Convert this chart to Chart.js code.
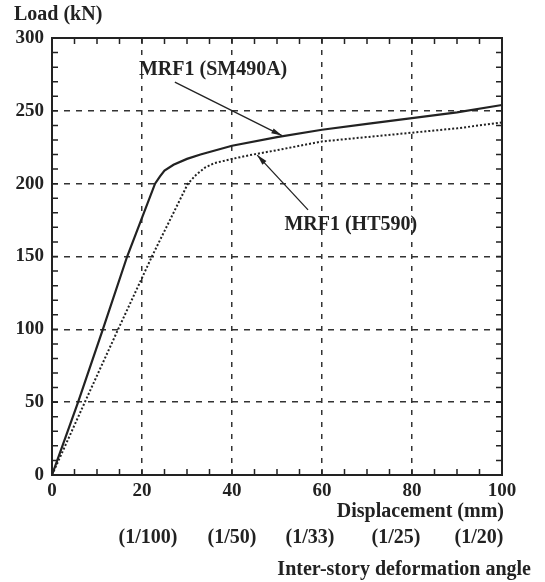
<!DOCTYPE html>
<html>
<head>
<meta charset="utf-8">
<script src="https://cdn.jsdelivr.net/npm/chart.js@4/dist/chart.umd.min.js"></script>
<style>
  html, body { margin: 0; padding: 0; background: #fff; }
  #wrap { width: 545px; height: 582px; }
</style>
</head>
<body>
<div id="wrap"><canvas id="chart" width="545" height="582"></canvas></div>
<script>
// Load-displacement curves, MRF1 frames
const dispSM = [0, 5.8, 11.3, 16.7, 22.9, 24, 25, 27, 30, 33, 40, 50, 60, 70, 80, 90, 100];
const loadSM = [0, 50, 100, 150, 200, 205, 209, 213, 217, 220, 226, 232, 237, 241, 245, 249, 254];
const dispHT = [0, 7.3, 14.7, 22.2, 30.2, 32, 34, 36, 40, 44, 50, 60, 70, 80, 90, 100];
const loadHT = [0, 50, 100, 150, 200, 206, 211, 214, 217, 219.6, 223, 229, 232, 235, 238, 242];

const seriesNames = ['MRF1 (SM490A)', 'MRF1 (HT590)'];
const angleLabels = ['(1/100)', '(1/50)', '(1/33)', '(1/25)', '(1/20)'];
const angleDisp = [20, 40, 60, 80, 100];

const INK = '#222';
const SERIF = '"Liberation Serif", "DejaVu Serif", serif';
const FONT = 'bold 20px ' + SERIF;

function toPoints(xs, ys) {
    return xs.map((x, i) => ({ x: x, y: ys[i] }));
}

// frame, inward ticks, axis titles, angle row and callouts
const decorations = {
    id: 'decorations',
    afterDraw(chart) {
        const { ctx, chartArea: a, scales: { x, y } } = chart;
        ctx.save();
        ctx.strokeStyle = INK;
        ctx.lineWidth = 1.5;
        ctx.beginPath();
        for (let v = 0; v <= 100; v += 5) {
            const px = x.getPixelForValue(v);
            ctx.moveTo(px, a.bottom); ctx.lineTo(px, a.bottom - 6);
            ctx.moveTo(px, a.top); ctx.lineTo(px, a.top + 6);
        }
        for (let v = 0; v <= 300; v += 10) {
            const py = y.getPixelForValue(v);
            ctx.moveTo(a.left, py); ctx.lineTo(a.left + 6, py);
            ctx.moveTo(a.right, py); ctx.lineTo(a.right - 6, py);
        }
        ctx.stroke();

        ctx.lineWidth = 2;
        ctx.strokeRect(a.left, a.top, a.right - a.left, a.bottom - a.top);

        ctx.fillStyle = INK;
        ctx.font = FONT;
        ctx.textBaseline = 'middle';
        ctx.textAlign = 'left';
        ctx.fillText('Load (kN)', 14, 15);

        ctx.textAlign = 'right';
        ctx.fillText('Displacement (mm)', 504, 512);
        ctx.fillText('Inter-story deformation angle', 531, 570);

        const shift = [6, 0, -12, -16, -23];
        ctx.textAlign = 'center';
        angleLabels.forEach((lbl, i) => {
            ctx.fillText(lbl, x.getPixelForValue(angleDisp[i]) + shift[i], 538);
        });

        // callouts
        ctx.fillText(seriesNames[0], x.getPixelForValue(35.8), y.getPixelForValue(278));
        ctx.fillText(seriesNames[1], x.getPixelForValue(66.4), y.getPixelForValue(171.6));
        arrow(ctx, x.getPixelForValue(27.3), y.getPixelForValue(269.7),
                   x.getPixelForValue(51.1), y.getPixelForValue(233));
        arrow(ctx, x.getPixelForValue(56.9), y.getPixelForValue(182),
                   x.getPixelForValue(45.6), y.getPixelForValue(219.6));
        ctx.restore();
    }
};

function arrow(ctx, x1, y1, x2, y2) {
    const ang = Math.atan2(y2 - y1, x2 - x1);
    ctx.strokeStyle = INK;
    ctx.lineWidth = 1.3;
    ctx.beginPath();
    ctx.moveTo(x1, y1);
    ctx.lineTo(x2, y2);
    ctx.stroke();
    ctx.beginPath();
    ctx.moveTo(x2, y2);
    ctx.lineTo(x2 - 11 * Math.cos(ang - 0.25), y2 - 11 * Math.sin(ang - 0.25));
    ctx.lineTo(x2 - 11 * Math.cos(ang + 0.25), y2 - 11 * Math.sin(ang + 0.25));
    ctx.closePath();
    ctx.fill();
}

function gridColor(ctx, max) {
    const v = ctx.tick ? ctx.tick.value : null;
    return (v === 0 || v === max) ? 'rgba(0,0,0,0)' : '#333';
}

const tickFont = { family: SERIF, size: 19, weight: 'bold' };

new Chart(document.getElementById('chart'), {
    type: 'line',
    data: {
        datasets: [{
            label: seriesNames[0],
            data: toPoints(dispSM, loadSM),
            borderColor: INK,
            borderWidth: 2.2,
            pointRadius: 0,
            tension: 0
        }, {
            label: seriesNames[1],
            data: toPoints(dispHT, loadHT),
            borderColor: INK,
            borderWidth: 2,
            borderDash: [2, 2],
            pointRadius: 0,
            tension: 0
        }]
    },
    options: {
        responsive: false,
        animation: false,
        events: [],
        layout: { padding: { left: 0, right: 43, top: 38, bottom: 0 } },
        plugins: { legend: { display: false }, tooltip: { enabled: false } },
        scales: {
            x: {
                type: 'linear',
                min: 0, max: 100,
                afterFit(scale) { scale.height = 107; },
                ticks: { stepSize: 20, color: INK, padding: 5, font: tickFont },
                grid: { drawTicks: false, lineWidth: 1.5, color: c => gridColor(c, 100) },
                border: { display: false, dash: [5, 7] }
            },
            y: {
                min: 0, max: 300,
                afterFit(scale) { scale.width = 52; },
                ticks: { stepSize: 50, color: INK, padding: 8, font: tickFont },
                grid: { drawTicks: false, lineWidth: 1.5, color: c => gridColor(c, 300) },
                border: { display: false, dash: [6, 6] }
            }
        }
    },
    plugins: [decorations]
});
</script>
</body>
</html>
